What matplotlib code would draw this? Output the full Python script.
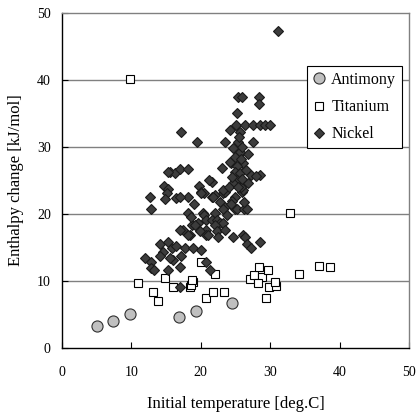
import matplotlib
matplotlib.use("Agg")
import matplotlib.pyplot as plt

plt.rcParams['font.family'] = ['Liberation Serif', 'DejaVu Serif']

antimony_x = [5.1, 7.3, 9.8, 16.8, 19.3, 24.5]
antimony_y = [3.3, 4.1, 5.1, 4.7, 5.5, 6.7]

titanium_x = [9.8, 10.9, 13.1, 13.8, 14.8, 16.0, 18.4, 18.9, 18.6, 18.7, 20.8, 21.7,
              23.4, 22.0, 20.1, 27.1, 27.7, 28.4, 28.8, 29.7, 28.3, 29.9, 30.8, 30.7,
              29.4, 32.8, 34.1, 37.0, 38.6]
titanium_y = [40.2, 9.7, 8.3, 7.1, 10.5, 9.1, 9.1, 9.9, 9.4, 10.1, 7.5, 8.4,
              8.4, 11.0, 12.9, 10.3, 10.9, 12.1, 10.6, 11.7, 9.7, 9.1, 9.3, 9.8,
              7.5, 20.1, 11.0, 12.3, 12.1]

nickel_x = [31.2, 25.4, 25.9, 28.4, 28.4, 25.2, 24.2, 25.1, 26.4, 27.6, 28.5, 29.3,
            30.0, 25.6, 17.2, 19.5, 23.5, 25.3, 27.6, 25.5, 26.8, 25.6, 24.4, 25.9,
            26.1, 25.2, 23.0, 15.6, 16.3, 17.0, 18.1, 15.3, 24.9, 25.6, 27.3, 28.5,
            28.0, 25.2, 26.8, 24.7, 21.6, 21.2, 19.8, 20.1, 14.7, 15.3, 15.1, 14.8,
            16.5, 18.2, 12.7, 12.8, 21.6, 22.0, 23.2, 23.5, 25.9, 26.1, 23.2, 20.4,
            22.8, 23.5, 23.2, 24.9, 25.2, 26.3, 26.6, 18.1, 20.3, 20.4, 22.0, 20.8,
            21.6, 22.3, 22.8, 23.2, 19.6, 18.7, 22.0, 19.2, 17.5, 17.0, 20.8, 22.3,
            23.5, 19.9, 18.4, 18.2, 20.8, 21.1, 22.5, 24.7, 26.1, 26.4, 26.6, 27.3,
            28.5, 14.1, 15.3, 15.8, 16.5, 17.7, 18.9, 20.1, 14.6, 12.0, 12.9, 12.9,
            14.1, 16.0, 17.2, 15.3, 17.0, 20.8, 21.3, 17.0, 13.2, 15.6, 17.0, 20.1,
            21.8, 24.2, 24.5, 25.8, 26.0, 24.0, 25.0, 24.5, 23.8, 24.3, 19.0, 18.6,
            25.5, 26.0, 25.0, 26.5, 25.3, 24.6, 25.8, 26.2]
nickel_y = [47.3, 37.5, 37.4, 37.5, 36.4, 35.0, 32.5, 33.3, 33.3, 33.3, 33.3, 33.3,
            33.3, 32.3, 32.3, 30.8, 30.8, 30.8, 30.8, 29.0, 29.0, 29.3, 27.6, 27.6,
            27.6, 27.1, 26.8, 26.3, 26.1, 26.7, 26.7, 26.2, 26.3, 26.1, 25.8, 25.8,
            25.6, 25.1, 24.6, 24.6, 24.8, 25.0, 24.2, 23.3, 24.2, 23.7, 23.1, 22.2,
            22.4, 22.6, 22.6, 20.7, 22.6, 22.8, 23.2, 23.3, 23.3, 23.6, 23.6, 23.1,
            21.8, 21.1, 20.8, 20.8, 20.7, 20.7, 20.8, 20.1, 20.1, 19.9, 20.1, 19.1,
            19.1, 19.1, 18.6, 18.6, 18.6, 18.4, 18.4, 18.4, 17.6, 17.6, 17.6, 17.4,
            17.6, 17.4, 16.9, 16.9, 16.9, 16.9, 16.6, 16.6, 16.9, 16.6, 15.6, 14.9,
            15.9, 15.6, 15.9, 14.9, 15.2, 14.9, 14.9, 14.6, 14.4, 13.4, 12.9, 11.9,
            13.7, 13.1, 13.7, 11.6, 12.1, 12.9, 11.6, 9.1, 11.6, 13.4, 22.5, 23.1,
            22.6, 27.8, 25.5, 24.0, 25.2, 24.0, 22.5, 22.0, 19.8, 21.5, 21.5, 19.6,
            31.5, 30.0, 28.5, 26.5, 24.0, 29.8, 28.2, 21.8]

x_ticks = [0, 10, 20, 30, 40, 50]
y_ticks = [0, 10, 20, 30, 40, 50]

fig = plt.figure(figsize=(4.16, 4.13), dpi=100)
ax = fig.add_axes([0.149, 0.157, 0.834, 0.812])

for yv in [10, 20, 30, 40]:
    ax.axhline(yv, color='#808080', lw=1.0, zorder=0)

ax.plot(antimony_x, antimony_y, linestyle='none', marker='o', ms=8.0,
        mfc='#c0c0c0', mec='#303030', mew=0.8, label='Antimony', zorder=3)
ax.plot(titanium_x, titanium_y, linestyle='none', marker='s', ms=6.0,
        mfc='white', mec='black', mew=0.8, label='Titanium', zorder=3)
ax.plot(nickel_x, nickel_y, linestyle='none', marker='D', ms=5.6,
        mfc='#3c3c3c', mec='#1a1a1a', mew=0.8, label='Nickel', zorder=4)

ax.set_xlim(0, 50)
ax.set_ylim(0, 50)
ax.set_xticks(x_ticks)
ax.set_yticks(y_ticks)
ax.tick_params(direction='in', length=4, labelsize=10, colors='black')
ax.tick_params(axis='x', pad=13)
ax.tick_params(axis='y', pad=8)
ax.spines['left'].set_color('black')
ax.spines['bottom'].set_color('black')
ax.spines['right'].set_color('#808080')
ax.spines['top'].set_color('#808080')
for s in ax.spines.values():
    s.set_linewidth(1.0)

ax.set_xlabel('Initial temperature [deg.C]', fontsize=12, labelpad=12)
ax.set_ylabel('Enthalpy change [kJ/mol]', fontsize=12, labelpad=9)

leg = ax.legend(loc='upper left', bbox_to_anchor=(0.705, 0.84), fontsize=11.5,
                frameon=True, fancybox=False, edgecolor='black', framealpha=1,
                handlelength=0.8, handletextpad=0.4, borderpad=0.35,
                labelspacing=0.7, borderaxespad=0)
leg.get_frame().set_linewidth(0.8)

fig.savefig('out.png', dpi=100)
